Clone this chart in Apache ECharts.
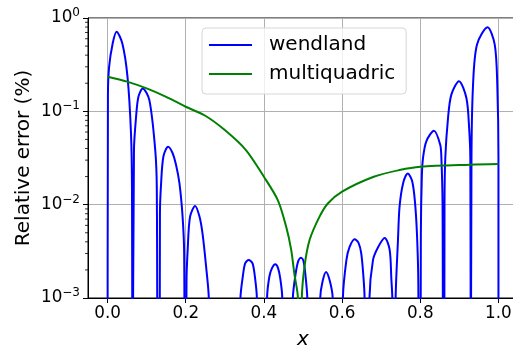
<!DOCTYPE html>
<html>
<head>
<meta charset="utf-8">
<script src="https://cdn.jsdelivr.net/npm/echarts@6/dist/echarts.min.js"></script>
<style>
html,body{margin:0;padding:0;background:#fff;}
#c{width:513px;height:349px;}
</style>
</head>
<body>
<div id="c"></div>
<script>
// ---- data ----
var Z = 1e-5; // value at an exact zero of the error (below the visible range)
var wendlandX = [
  0, 0.001, 0.004, 0.013, 0.023, 0.038, 0.051, 0.060, 0.0625, 0.064,
  0.065, 0.0676, 0.073, 0.079, 0.090, 0.107, 0.122, 0.126, 0.129,
  0.133, 0.134, 0.137, 0.143, 0.155, 0.166, 0.175, 0.184, 0.192, 0.196, 0.198,
  0.200, 0.202, 0.205, 0.211, 0.224, 0.235, 0.243, 0.252, 0.259, 0.265,
  0.333, 0.340, 0.346, 0.352, 0.361, 0.371, 0.378, 0.382, 0.390,
  0.400, 0.408, 0.414, 0.421, 0.429, 0.436, 0.442, 0.447, 0.455,
  0.466, 0.474, 0.481, 0.488, 0.495, 0.501, 0.506, 0.511, 0.520,
  0.535, 0.544, 0.550, 0.559, 0.569, 0.576, 0.585,
  0.595, 0.602, 0.611, 0.619, 0.632, 0.642, 0.649, 0.655, 0.6575, 0.663,
  0.665, 0.670, 0.679, 0.692, 0.709, 0.7216, 0.726, 0.7285, 0.732,
  0.734, 0.737, 0.743, 0.747, 0.756, 0.768, 0.779, 0.786, 0.7915, 0.795, 0.797,
  0.800, 0.8015, 0.804, 0.807, 0.8155, 0.835, 0.851, 0.854, 0.857, 0.859,
  0.861, 0.862, 0.864, 0.871, 0.8795, 0.899, 0.918, 0.925, 0.928, 0.9295,
  0.930, 0.931, 0.935, 0.945, 0.972, 0.9905, 0.997, 1.0, 1.0
];
var wendlandY = [
  Z, 0.15, 0.30, 0.53, 0.713, 0.53, 0.235, 0.058, 0.015, Z,
  Z, 0.0385, 0.0875, 0.143, 0.176, 0.132, 0.0385, 0.015, Z,
  Z, 0.008, 0.0169, 0.033, 0.0418, 0.036, 0.027, 0.0169, 0.0074, 0.003, Z,
  Z, 0.0015, 0.0033, 0.0074, 0.0097, 0.0075, 0.0049, 0.0022, 0.001, Z,
  Z, 0.001, 0.0017, 0.00235, 0.00255, 0.00235, 0.00155, 0.001, Z,
  Z, 0.001, 0.0017, 0.0021, 0.0023, 0.0021, 0.0016, 0.001, Z,
  Z, 0.001, 0.0018, 0.0025, 0.0027, 0.0025, 0.0018, 0.001, Z,
  Z, 0.001, 0.0015, 0.0019, 0.0015, 0.001, Z,
  Z, 0.001, 0.00255, 0.0035, 0.00425, 0.0039, 0.0030, 0.0016, 0.001, Z,
  Z, 0.001, 0.00255, 0.0035, 0.00439, 0.0033, 0.0016, 0.001, Z,
  Z, 0.001, 0.0042, 0.0095, 0.0169, 0.0216, 0.018, 0.0112, 0.0049, 0.00144, Z,
  Z, 0.005, 0.02, 0.0316, 0.0478, 0.062, 0.0439, 0.0316, 0.01, Z,
  Z, 0.01, 0.0316, 0.0848, 0.151, 0.21, 0.139, 0.066, 0.0316, Z,
  Z, 0.0316, 0.193, 0.518, 0.795, 0.518, 0.193, 0.0316, Z
];
var multiquadricX = [0, 0.05, 0.1, 0.15, 0.2, 0.25, 0.3, 0.354, 0.4, 0.4355, 0.457, 0.4697, 0.478, 0.487, 0.492,
  0.497, 0.504, 0.517, 0.542, 0.5635, 0.6, 0.681, 0.747, 0.8, 0.927, 1.0];
var multiquadricY = [0.235, 0.208, 0.176, 0.143, 0.112, 0.0897, 0.063, 0.0385, 0.0199, 0.0112, 0.0058, 0.0033, 0.0018, 0.001, Z,
  0.001, 0.0022, 0.0042, 0.0074, 0.0103, 0.0138, 0.0199, 0.0235, 0.0255, 0.0268, 0.0272];
var seriesNames = ['wendland', 'multiquadric'];
var xTickValues = [0, 0.2, 0.4, 0.6, 0.8, 1.0];
var xMin = -0.05, xMax = 1.05;
var yMin = 1e-3, yMax = 1;
var yMinorTicks = [2e-3,3e-3,4e-3,5e-3,6e-3,7e-3,8e-3,9e-3,
  2e-2,3e-2,4e-2,5e-2,6e-2,7e-2,8e-2,9e-2,
  2e-1,3e-1,4e-1,5e-1,6e-1,7e-1,8e-1,9e-1];
var yLabel = 'Relative error (%)';
var xLabel = 'x';

function zip(a, b){ var r=[]; for(var i=0;i<a.length;i++) r.push([a[i], b[i]]); return r; }

var FONT = 'DejaVu Sans';
var chart = echarts.init(document.getElementById('c'), null, {renderer:'canvas'});
chart.setOption({
  animation: false,
  backgroundColor: '#fff',
  grid: {left: 88, top: 18, right: -5, bottom: 51, outerBoundsMode: 'none', containLabel: false,
    show: true, borderColor: '#000', borderWidth: 1, backgroundColor: 'transparent'},
  legend: {
    data: seriesNames, orient: 'vertical', left: 202, top: 28,
    icon: 'rect', itemWidth: 43, itemHeight: 2, itemGap: 9,
    padding: [7, 11, 10, 7],
    backgroundColor: 'rgba(255,255,255,0.8)', borderColor: '#d6d6d6', borderWidth: 1, borderRadius: 4,
    textStyle: {fontFamily: FONT, fontSize: 20, color: '#000', padding: [0, 0, 0, 12]}
  },
  xAxis: {
    type: 'value', min: xMin, max: xMax,
    name: xLabel, nameLocation: 'middle', nameGap: 32, nameMoveOverlap: false,
    nameTextStyle: {fontFamily: FONT, fontSize: 20, fontStyle: 'italic', color: '#000'},
    axisLine: {show: true, onZero: false, lineStyle: {color: '#000', width: 1}},
    axisTick: {show: true, length: 5, lineStyle: {color: '#000'}, customValues: xTickValues},
    axisLabel: {fontFamily: FONT, fontSize: 16.8, color: '#000', margin: 7, customValues: xTickValues,
      formatter: function(v){ return v.toFixed(1); }},
    splitLine: {show: true, lineStyle: {color: '#b0b0b0', width: 1}}
  },
  yAxis: {
    type: 'log', logBase: 10, min: yMin, max: yMax, splitNumber: 3,
    name: yLabel, nameLocation: 'middle', nameGap: 54, nameMoveOverlap: false,
    nameTextStyle: {fontFamily: FONT, fontSize: 20, color: '#000'},
    axisLine: {show: true, onZero: false, lineStyle: {color: '#000', width: 1}},
    axisTick: {show: true, length: 5, lineStyle: {color: '#000'}},
    axisLabel: {
      fontFamily: FONT, color: '#000', margin: 8,
      formatter: function(v){
        var e = Math.round(Math.log10(v));
        return '{b|10}{s|' + (e < 0 ? '\u2212' + (-e) : e) + '}';
      },
      rich: {
        b: {fontFamily: FONT, fontSize: 16.8, color: '#000', lineHeight: 22},
        s: {fontFamily: FONT, fontSize: 12, color: '#000', verticalAlign: 'top', lineHeight: 12}
      }
    },
    splitLine: {show: true, lineStyle: {color: '#b0b0b0', width: 1}}
  },
  series: [
    {name: seriesNames[0], type: 'line', data: zip(wendlandX, wendlandY), symbol: 'none',
     smooth: 0.3, lineStyle: {color: '#0000ff', width: 2}, itemStyle: {color: '#0000ff'}, z: 3},
    {name: seriesNames[1], type: 'line', data: zip(multiquadricX, multiquadricY), symbol: 'none',
     smooth: 0.3, lineStyle: {color: '#008000', width: 2}, itemStyle: {color: '#008000'}, z: 4},
    {name: 'minorTicks', type: 'custom', silent: true, clip: false, z: 5,
     data: yMinorTicks.map(function(v){ return [xMin, v]; }),
     renderItem: function(params, api){
       var p = api.coord([api.value(0), api.value(1)]);
       return {type: 'line', shape: {x1: p[0] - 3, y1: p[1], x2: p[0], y2: p[1]}, style: {stroke: '#000', lineWidth: 0.8}};
     }}
  ]
});
</script>
</body>
</html>
